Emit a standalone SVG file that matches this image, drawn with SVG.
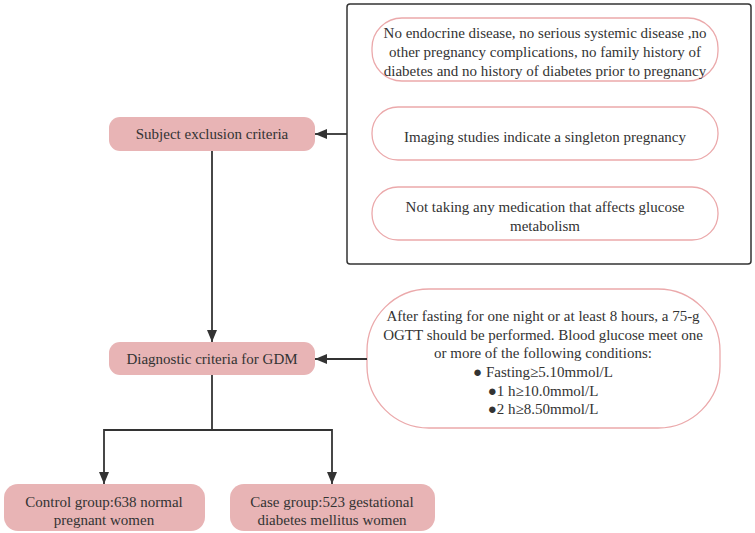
<svg xmlns="http://www.w3.org/2000/svg" width="755" height="533" viewBox="0 0 755 533">
<style>
text{font-family:"Liberation Serif","DejaVu Serif",serif;font-size:15px;fill:#333;text-anchor:middle}
.main{fill:#e8b4b5;stroke:none}
.pill{fill:#fff;stroke:#eba9ab;stroke-width:1.3}
.line{fill:none;stroke:#333;stroke-width:1.8}
</style>
<defs>
<marker id="ah" markerWidth="12" markerHeight="10" refX="12" refY="5" orient="auto" markerUnits="userSpaceOnUse">
<path d="M0,0 L12,5 L0,10 Z" fill="#333"/>
</marker>
</defs>
<rect x="0" y="0" width="755" height="533" fill="#fff"/>
<g id="exclusion-panel">
<rect x="347" y="4" width="404" height="260" rx="3" fill="#fff" stroke="#333" stroke-width="1.5"/>
</g>
<g id="crit1">
<rect class="pill" x="372" y="18" width="346" height="63" rx="30"/>
<text x="545" y="38">No endocrine disease, no serious systemic disease ,no</text>
<text x="545" y="57">other pregnancy complications, no family history of</text>
<text x="545" y="76">diabetes and no history of diabetes prior to pregnancy</text>
</g>
<g id="crit2">
<rect class="pill" x="372" y="107" width="346" height="53" rx="26"/>
<text x="545" y="142">Imaging studies indicate a singleton pregnancy</text>
</g>
<g id="crit3">
<rect class="pill" x="372" y="187" width="346" height="53" rx="26"/>
<text x="545" y="212">Not taking any medication that affects glucose</text>
<text x="545" y="231">metabolism</text>
</g>
<g id="subject-exclusion">
<rect class="main" x="109" y="117" width="206" height="34" rx="11"/>
<text x="212" y="139">Subject exclusion criteria</text>
</g>
<g id="diagnostic">
<rect class="main" x="109" y="342" width="206" height="33" rx="11"/>
<text x="212" y="364">Diagnostic criteria for GDM</text>
</g>
<g id="gdm-criteria">
<rect class="pill" x="367" y="289" width="353" height="139" rx="62"/>
<text x="543" y="321">After fasting for one night or at least 8 hours, a 75-g</text>
<text x="543" y="339.5">OGTT should be performed. Blood glucose meet one</text>
<text x="543" y="358">or more of the following conditions:</text>
<text x="543" y="377">● Fasting≥5.10mmol/L</text>
<text x="543" y="395.5">●1 h≥10.0mmol/L</text>
<text x="543" y="414">●2 h≥8.50mmol/L</text>
</g>
<g id="control">
<rect class="main" x="4" y="484" width="201" height="47" rx="14"/>
<text x="104" y="507">Control group:638 normal</text>
<text x="104" y="525">pregnant women</text>
</g>
<g id="case">
<rect class="main" x="230" y="484" width="205" height="47" rx="14"/>
<text x="332" y="507">Case group:523 gestational</text>
<text x="332" y="525">diabetes mellitus women</text>
</g>
<g id="connectors">
<line class="line" x1="347" y1="134" x2="315" y2="134" marker-end="url(#ah)"/>
<line class="line" x1="212" y1="151" x2="212" y2="342" marker-end="url(#ah)"/>
<line class="line" x1="367" y1="359" x2="315" y2="359" marker-end="url(#ah)"/>
<polyline class="line" points="212,375 212,430"/>
<polyline class="line" points="212,430 104,430 104,484" marker-end="url(#ah)"/>
<polyline class="line" points="212,430 332,430 332,484" marker-end="url(#ah)"/>
</g>
</svg>
